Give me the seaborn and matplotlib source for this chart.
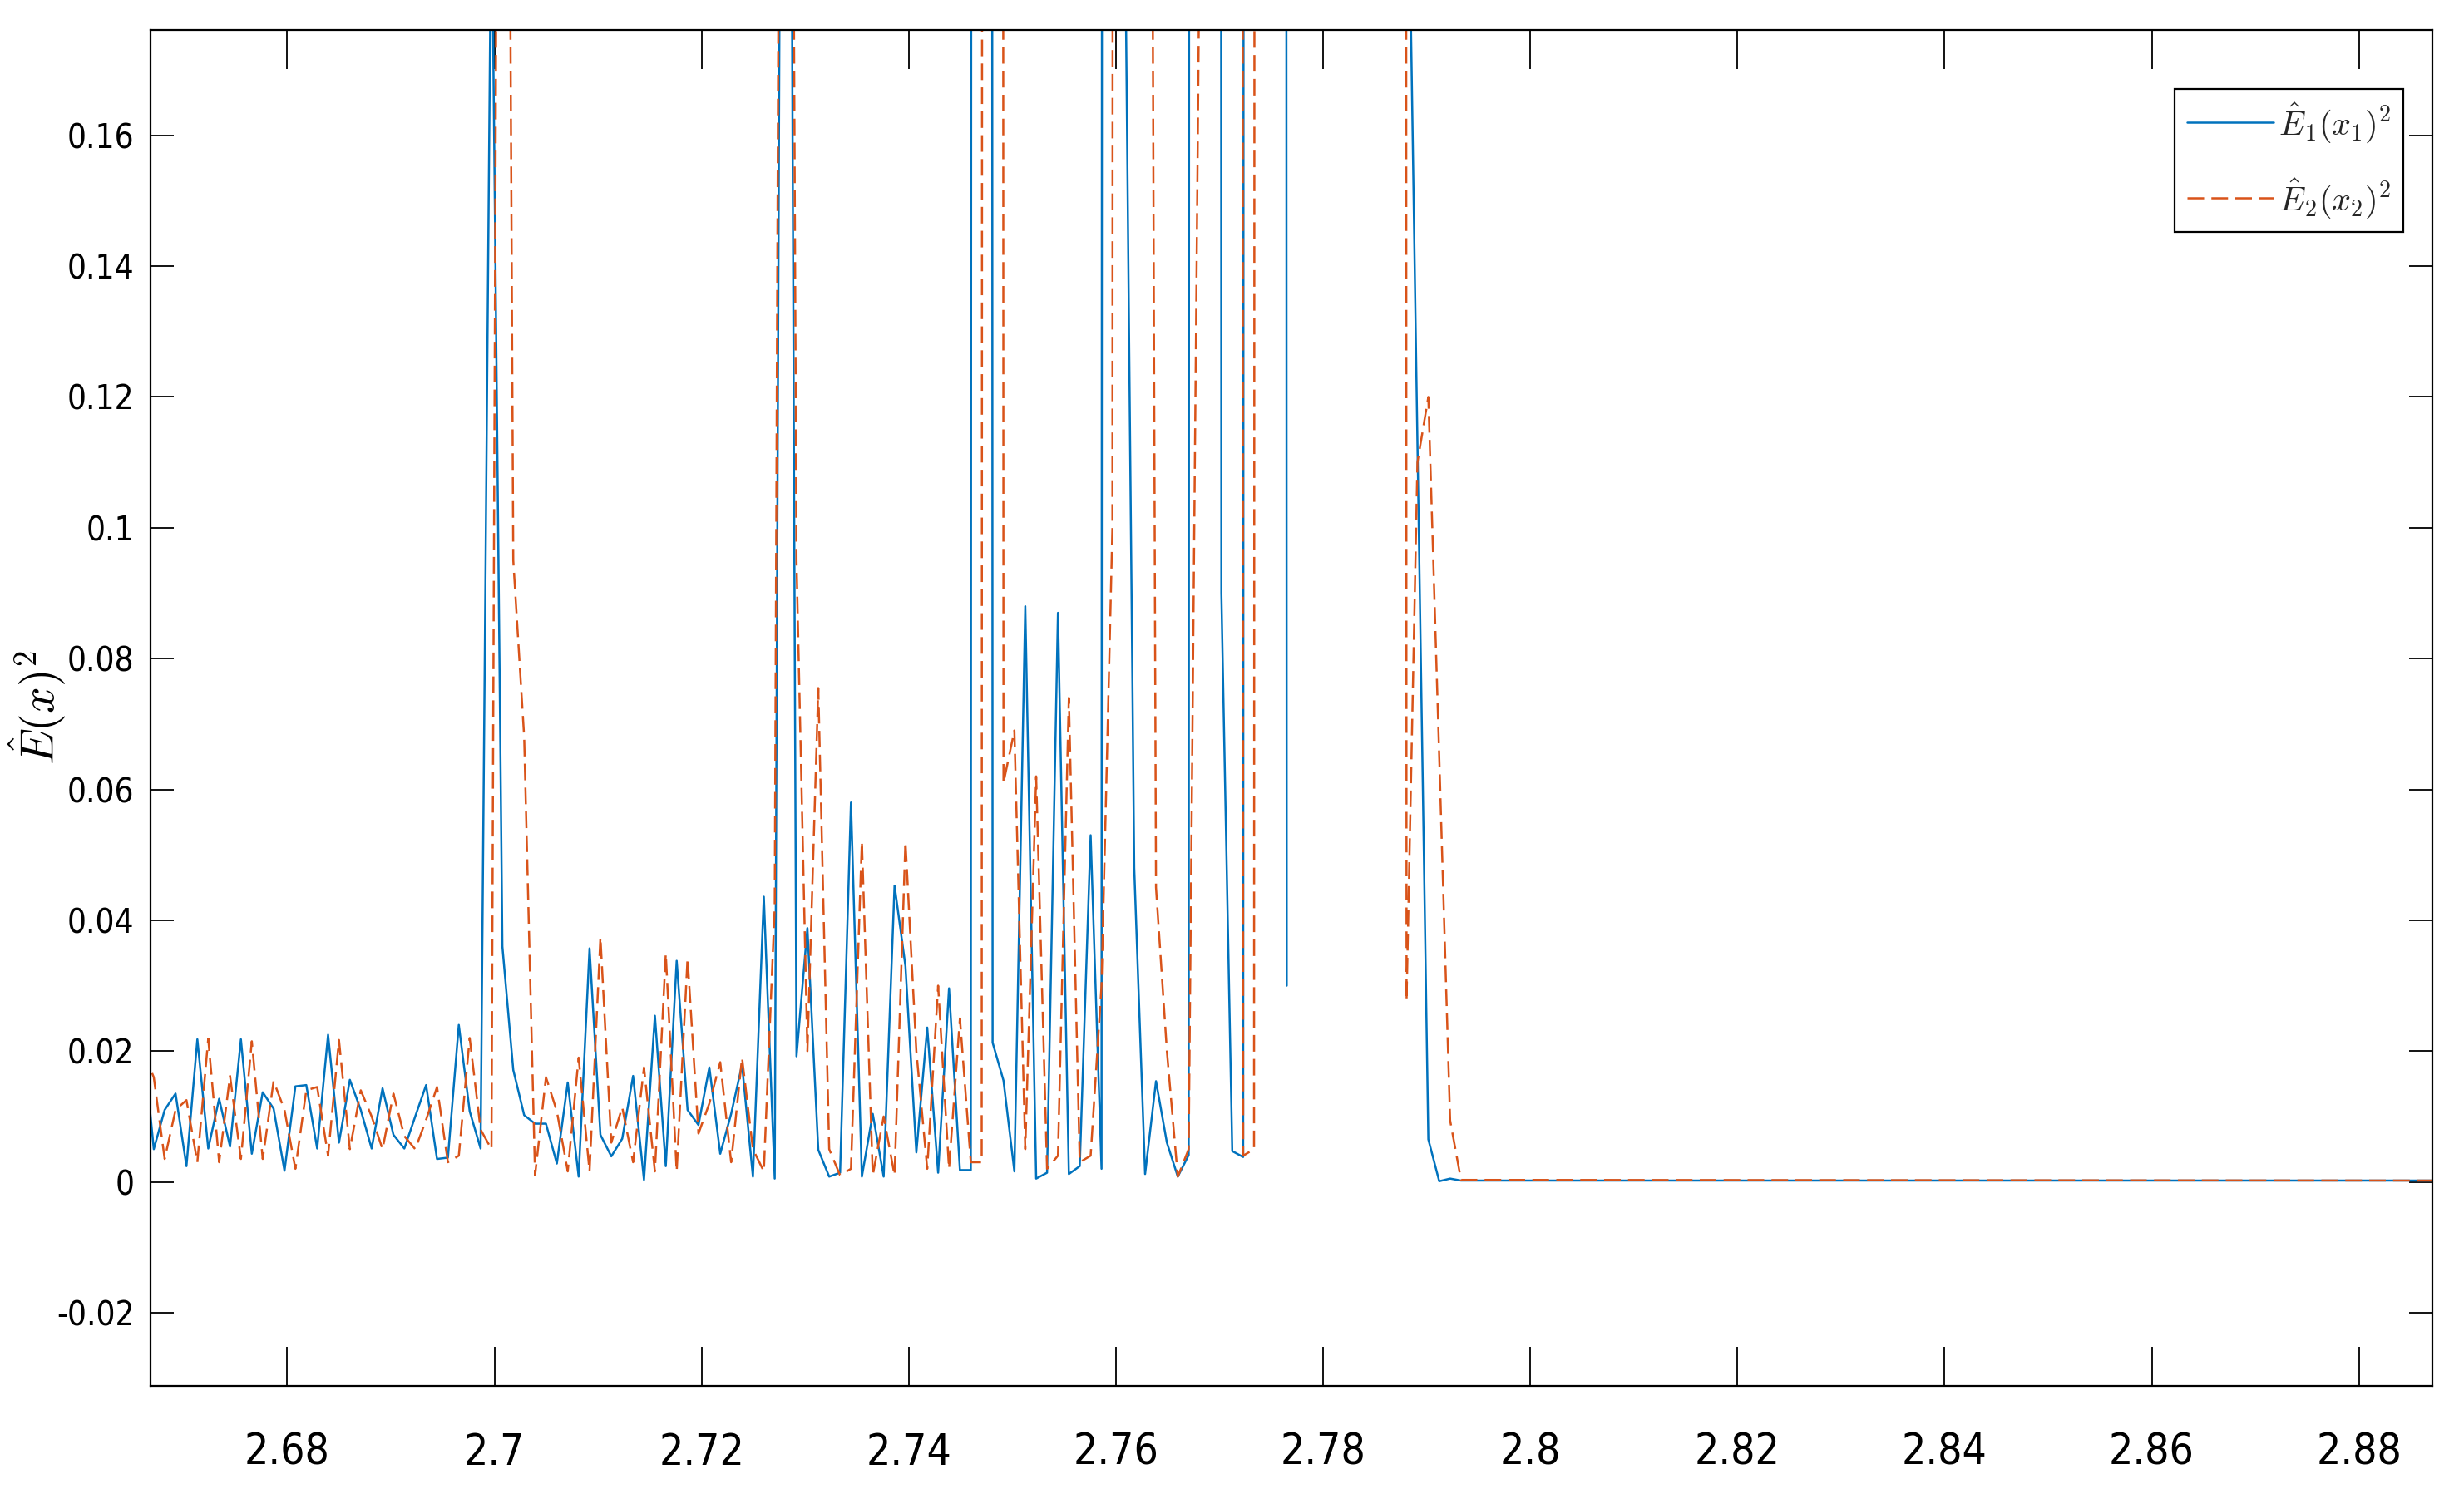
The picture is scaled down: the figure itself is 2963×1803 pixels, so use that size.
import numpy as np
import pandas as pd
import matplotlib
matplotlib.use("Agg")
import matplotlib.pyplot as plt
from matplotlib.lines import Line2D
import seaborn as sns

nan = np.nan

# sampling grid of the noisy part
x_start = 2.66606
x_step = 0.0010517
x_tail = 2.8875

# E1(x1)^2, solid blue
e1 = [0.022, 0.005, 0.011, 0.0135, 0.0024, 0.0218, 0.0051, 0.0127, 0.0054, 0.0218,
      0.0043, 0.0137, 0.0112, 0.0017, 0.0146, 0.0148, 0.0051, 0.0225, 0.006, 0.0156,
      0.011, 0.0051, 0.0143, 0.0072, 0.0051, 0.010, 0.0148, 0.0035, 0.0037, 0.024,
      0.0108, 0.0051, 0.20, 0.036, 0.0171, 0.0102, 0.0089, 0.0089, 0.0028, 0.0152,
      0.0008, 0.0357, 0.0072, 0.0039, 0.0066, 0.0162, 0.0003, 0.0254, 0.0024, 0.0338,
      0.011, 0.0087, 0.0175, 0.0043, 0.0104, 0.0179, 0.0008, 0.0436, 0.0005, 0.41,
      0.0192, 0.0388, 0.0049, 0.0008, 0.0014, 0.058, 0.0008, 0.0104, 0.0008, 0.0453,
      0.033, 0.0045, 0.0236, 0.0014, 0.0296, 0.0018, 0.0018, 5.0, 0.0213, 0.0155,
      0.0016, 0.088, 0.0005, 0.0014, 0.087, 0.0012, 0.0024, 0.053, 0.002, 5.0,
      0.22, 0.048, 0.0012, 0.0154, 0.006, 0.0008, 0.0041, 5.0, 5.0, 0.09,
      0.0047, 0.0038, 5.0, 5.0, 5.0, 0.030, nan, nan, nan, nan,
      nan, nan, nan, nan, nan, nan, 0.22, 0.113, 0.0065, 0.0001,
      0.0005, 0.0002]
e1_tail = 0.0002

# E2(x2)^2, dashed orange
e2 = [0.020, 0.016, 0.0035, 0.011, 0.0125, 0.003, 0.0219, 0.003, 0.0162, 0.0035,
      0.0215, 0.0035, 0.0154, 0.011, 0.002, 0.014, 0.0145, 0.004, 0.0217, 0.005,
      0.014, 0.010, 0.005, 0.0135, 0.007, 0.005, 0.0095, 0.0145, 0.003, 0.004,
      0.022, 0.008, 0.005, 0.41, 0.095, 0.068, 0.001, 0.016, 0.0108, 0.0016,
      0.019, 0.0016, 0.0374, 0.006, 0.0114, 0.003, 0.0175, 0.0016, 0.0349, 0.0016,
      0.0342, 0.0074, 0.012, 0.0183, 0.003, 0.019, 0.005, 0.0016, 0.042, 0.45,
      0.095, 0.02, 0.0755, 0.005, 0.001, 0.002, 0.052, 0.001, 0.010, 0.001,
      0.052, 0.02, 0.002, 0.030, 0.002, 0.025, 0.003, 0.003, 5.0, 0.061,
      0.069, 0.005, 0.062, 0.002, 0.004, 0.074, 0.003, 0.004, 0.03, 0.10,
      5.0, 5.0, 0.5, 0.045, 0.02, 0.0008, 0.005, 0.19, 5.0, 5.0,
      5.0, 0.004, 0.005, 5.0, nan, nan, nan, nan, nan, nan,
      nan, nan, nan, nan, nan, 5.0, 0.0277, 0.11, 0.12, 0.065,
      0.0094, 0.0003]
e2_tail = 0.0002

x_ticks = [2.68, 2.70, 2.72, 2.74, 2.76, 2.78, 2.80, 2.82, 2.84, 2.86, 2.88]
x_labels = ["2.68", "2.7", "2.72", "2.74", "2.76", "2.78", "2.8", "2.82", "2.84", "2.86", "2.88"]
y_ticks = [-0.02, 0, 0.02, 0.04, 0.06, 0.08, 0.1, 0.12, 0.14, 0.16]

blue = "#0072BD"
orange = "#D95319"


def to_frame(vals, tail, name):
    x = np.round(x_start + x_step * np.arange(len(vals)), 6)
    x = np.append(x, x_tail)
    y = np.append(np.array(vals, dtype=float), tail)
    seg = np.cumsum(np.isnan(y))   # NaN breaks the line like in MATLAB
    d = pd.DataFrame({"x": x, "y": y, "seg": seg, "series": name})
    return d.dropna()


df = pd.concat([to_frame(e1, e1_tail, "E1"), to_frame(e2, e2_tail, "E2")])

sns.set_theme(style="ticks")
plt.rcParams["font.family"] = ["DejaVu Sans"]
plt.rcParams["font.stretch"] = "condensed"
plt.rcParams["mathtext.fontset"] = "cm"
plt.rcParams["xtick.direction"] = "in"
plt.rcParams["ytick.direction"] = "in"

fig = plt.figure(figsize=(29.63, 18.03), dpi=100)
ax = fig.add_axes([0.0611, 0.0754, 0.9261, 0.9046])

sns.lineplot(data=df, x="x", y="y", hue="series", style="series", units="seg",
             estimator=None, sort=False, palette={"E1": blue, "E2": orange},
             dashes={"E1": "", "E2": (8, 3.5)}, linewidth=1.8, legend=False, ax=ax)

ax.set_xlim(2.6668, 2.8871)
ax.set_ylim(-0.0312, 0.1761)
ax.set_xticks(x_ticks)
ax.set_xticklabels(x_labels)
ax.set_yticks(y_ticks)
ax.set_yticklabels([f"{v:g}" for v in y_ticks])
ax.tick_params(axis="x", length=34, width=1.3, labelsize=37, pad=40,
               top=True, colors="black")
ax.tick_params(axis="y", length=20, width=1.3, labelsize=29, pad=14,
               right=True, colors="black")
for s in ax.spines.values():
    s.set_visible(True)
    s.set_color("black")
    s.set_linewidth(1.6)

ax.set_xlabel("")
ax.set_ylabel(r"$\hat{E}(x)^2$", fontsize=40, color="black")
ax.yaxis.set_label_coords(-0.036, 0.5)

handles = [Line2D([], [], color=blue, lw=1.8),
           Line2D([], [], color=orange, lw=1.8, ls=(0, (8, 3.5)))]
leg = ax.legend(handles, [r"$\hat{E}_1(x_1)^2$", r"$\hat{E}_2(x_2)^2$"],
                loc="upper right", bbox_to_anchor=(0.9872, 0.9565),
                fontsize=29, handlelength=2.6, handletextpad=0.15,
                labelspacing=0.95, borderpad=0.35, borderaxespad=0,
                fancybox=False, framealpha=1, edgecolor="black")
leg.get_frame().set_linewidth(1.6)

fig.savefig("out.png", dpi=100)
plt.close(fig)
